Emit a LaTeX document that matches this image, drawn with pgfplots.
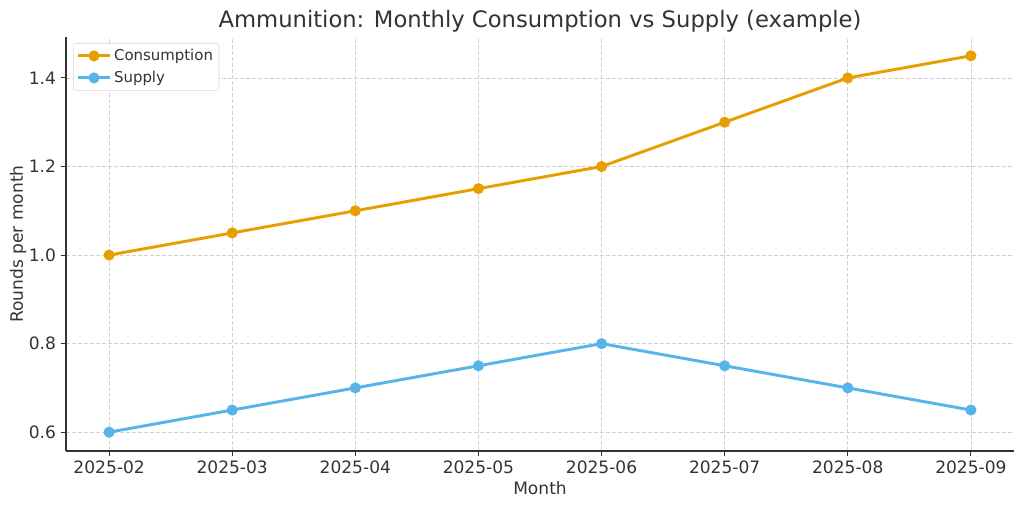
\documentclass[border=0pt]{standalone}
\usepackage{fontspec}
\setmainfont{DejaVu Sans}
\usepackage{pgfplots}
\pgfplotsset{compat=1.18}
\definecolor{cons}{HTML}{E69F00}
\definecolor{supp}{HTML}{56B4E9}
\definecolor{txt}{HTML}{333333}
\begin{document}
\begin{tikzpicture}
% canvas 1024x507 px, 1px = 0.75pt, axis SW corner at origin
\path[use as bounding box] (-49.5pt,-42pt) rectangle (718.5pt,338.25pt);
\begin{axis}[
  scale only axis,
  width=711pt, height=310.5pt,
  xmin=-0.35, xmax=7.35,
  ymin=557500, ymax=1492500,
  xtick={0,...,7},
  xticklabels={2025-02,2025-03,2025-04,2025-05,2025-06,2025-07,2025-08,2025-09},
  ytick={600000,800000,1000000,1200000,1400000},
  scaled y ticks=base 10:-6,
  ytick scale label code/.code={},
  yticklabel style={/pgf/number format/.cd,fixed,fixed zerofill,precision=1},
  /pgf/number format/assume math mode=true,
  axis x line*=bottom, axis y line*=left,
  axis line style={draw=txt, line width=0.9pt, -},
  tick align=outside, major tick length=4pt,
  tick style={draw=txt, line width=0.7pt},
  grid=major,
  major grid style={draw=gray!35, dash pattern=on 3pt off 1.5pt, line width=0.5pt},
  ticklabel style={font=\fontsize{12.8}{14}\selectfont, text=txt},
  xlabel={Month}, ylabel={Rounds per month},
  label style={font=\fontsize{12.8}{14}\selectfont, text=txt},
  xlabel style={yshift=1.5pt},
  ylabel style={yshift=-5pt},
  title={Ammunition: Monthly Consumption vs Supply (example)},
  title style={font=\fontsize{17}{20}\selectfont, text=txt, yshift=-6pt},
  legend style={at={(0.0074,0.9855)}, anchor=north west, draw=gray!30,
    rounded corners=2pt, font=\fontsize{11.2}{13}\selectfont, text=txt,
    row sep=2.5pt, inner sep=2.5pt},
  legend cell align=left,
  legend image code/.code={\draw[mark repeat=2,mark phase=2] plot coordinates {(0cm,0cm) (0.42cm,0cm) (0.84cm,0cm)};},
  every axis plot/.append style={line width=2.2pt, mark=*, mark size=3pt},
]
\addplot[color=cons, mark options={fill=cons}] coordinates {
  (0,1000000) (1,1050000) (2,1100000) (3,1150000)
  (4,1200000) (5,1300000) (6,1400000) (7,1450000)
};
\addlegendentry{Consumption}
\addplot[color=supp, mark options={fill=supp}] coordinates {
  (0,600000) (1,650000) (2,700000) (3,750000)
  (4,800000) (5,750000) (6,700000) (7,650000)
};
\addlegendentry{Supply}
\node[anchor=south west, font=\fontsize{12.8}{14}\selectfont, text=txt, inner sep=0pt]
  at (rel axis cs:0,1) [yshift=4pt] {1e6};
\end{axis}
\end{tikzpicture}
\end{document}
